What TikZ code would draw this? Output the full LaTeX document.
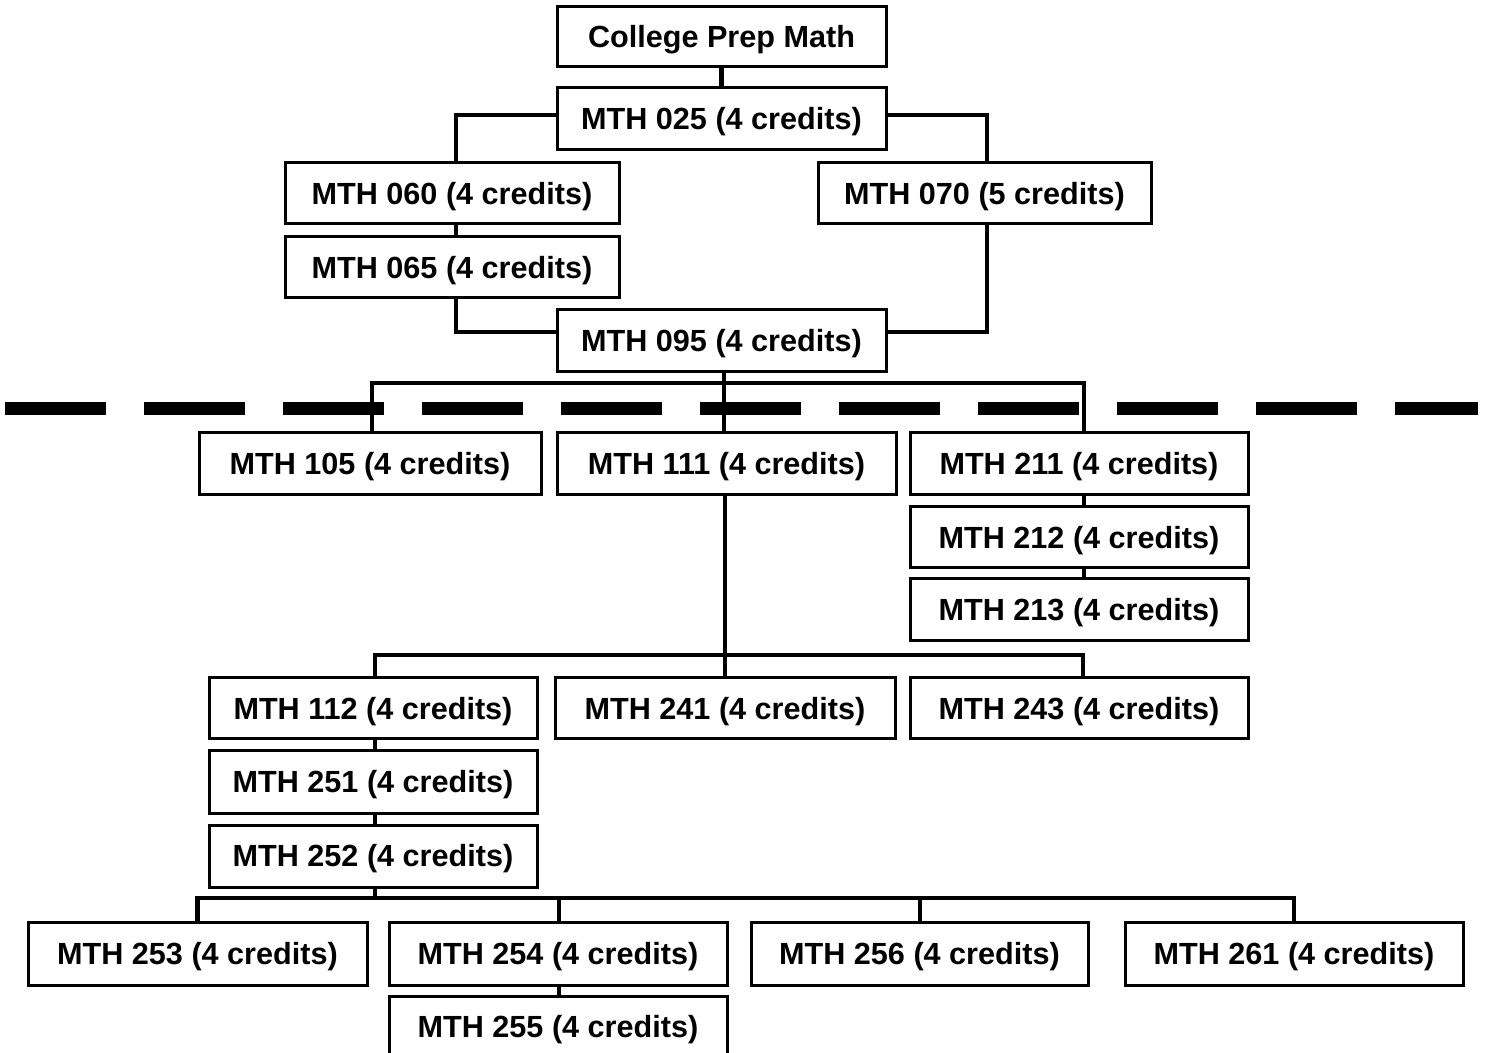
\documentclass[tikz,border=0pt]{standalone}
\usepackage{fontspec}
\setmainfont{Liberation Sans}
\begin{document}
\begin{tikzpicture}[x=0.5pt,y=-0.5pt,
  box/.style={draw,line width=1.5pt,fill=white,font=\fontsize{15.3}{18}\selectfont\bfseries,inner sep=0pt,text height=10.9pt,text depth=0pt},
  sz/.style 2 args={minimum width=#1*0.5pt,minimum height=#2*0.5pt},
  conn/.style={line width=2.25pt},
  sep/.style={line width=6.5pt,dash pattern=on 50.5pt off 19pt}]
\useasboundingbox (0,0) rectangle (1485,1053);
\fill[white] (0,0) rectangle (1485,1053);
\clip (0,0) rectangle (1485,1053);

% dashed separator
\coordinate (sepL) at (5,408.5);
\coordinate (sepR) at (1478,408.5);

% nodes
\node[box,sz={329}{60}] (cpm) at (721.5,37) {College Prep Math};
\node[box,sz={329}{62}] (m025) at (721.5,119) {MTH 025 (4 credits)};
\node[box,sz={334}{61}] (m060) at (452,193.5) {MTH 060 (4 credits)};
\node[box,sz={333}{61}] (m070) at (984.5,193.5) {MTH 070 (5 credits)};
\node[box,sz={334}{61}] (m065) at (452,267.5) {MTH 065 (4 credits)};
\node[box,sz={329}{62}] (m095) at (721.5,341) {MTH 095 (4 credits)};
\node[box,sz={342}{62}] (m105) at (370,464) {MTH 105 (4 credits)};
\node[box,sz={339}{62}] (m111) at (726.5,464) {MTH 111 (4 credits)};
\node[box,sz={338}{62}] (m211) at (1079,464) {MTH 211 (4 credits)};
\node[box,sz={338}{61}] (m212) at (1079,537.5) {MTH 212 (4 credits)};
\node[box,sz={338}{62}] (m213) at (1079,610) {MTH 213 (4 credits)};
\node[box,sz={328}{61}] (m112) at (373,708.5) {MTH 112 (4 credits)};
\node[box,sz={340}{61}] (m241) at (725,708.5) {MTH 241 (4 credits)};
\node[box,sz={338}{61}] (m243) at (1079,708.5) {MTH 243 (4 credits)};
\node[box,sz={328}{62}] (m251) at (373,782) {MTH 251 (4 credits)};
\node[box,sz={328}{62}] (m252) at (373,856) {MTH 252 (4 credits)};
\node[box,sz={339}{63}] (m253) at (197.5,953.5) {MTH 253 (4 credits)};
\node[box,sz={338}{63}] (m254) at (558,953.5) {MTH 254 (4 credits)};
\node[box,sz={337}{63}] (m256) at (919.5,953.5) {MTH 256 (4 credits)};
\node[box,sz={338}{63}] (m261) at (1294,953.5) {MTH 261 (4 credits)};
\node[box,sz={338}{62}] (m255) at (558,1027) {MTH 255 (4 credits)};

% bus junctions
\coordinate (b1) at (724,383);
\coordinate (b2) at (725,655);
\coordinate (b3) at (375,898);

% connectors
\draw[conn] (cpm.south) -- (m025.north);
\draw[conn] ([yshift=2pt]m025.west) -| ([xshift=2pt]m060.north);
\draw[conn] ([yshift=2pt]m025.east) -| ([xshift=1.25pt]m070.north);
\draw[conn] ([xshift=2pt]m060.south) -- ([xshift=2pt]m065.north);
\draw[conn] ([xshift=2pt]m065.south) |- ([yshift=4.5pt]m095.west);
\draw[conn] ([xshift=1.25pt]m070.south) |- ([yshift=4.5pt]m095.east);
\draw[conn] (b1 |- m095.south) -- (b1);
\draw[conn] ([xshift=1pt]m105.north) |- (b1) -| ([xshift=2.5pt]m211.north);
\draw[conn] (b1) -- (b1 |- m111.north);
\draw[conn] ([xshift=2.5pt]m211.south) -- ([xshift=2.5pt]m212.north);
\draw[conn] ([xshift=2.5pt]m212.south) -- ([xshift=2.5pt]m213.north);
\draw[conn] (b2 |- m111.south) -- (b2);
\draw[conn] ([xshift=1pt]m112.north) |- (b2) -| ([xshift=2pt]m243.north);
\draw[conn] (b2) -- (b2 |- m241.north);
\draw[conn] ([xshift=1pt]m112.south) -- ([xshift=1pt]m251.north);
\draw[conn] ([xshift=1pt]m251.south) -- ([xshift=1pt]m252.north);
\draw[conn] ([xshift=1pt]m252.south) -- (b3);
\draw[conn] (m253.north) |- (b3) -| (m261.north);
\draw[conn] (b3) -| ([xshift=0.5pt]m254.north);
\draw[conn] (b3) -| ([xshift=0.25pt]m256.north);
\draw[conn] ([xshift=0.5pt]m254.south) -- ([xshift=0.5pt]m255.north);

% separator drawn on top
\draw[sep] (sepL) -- (sepR);
\end{tikzpicture}
\end{document}
